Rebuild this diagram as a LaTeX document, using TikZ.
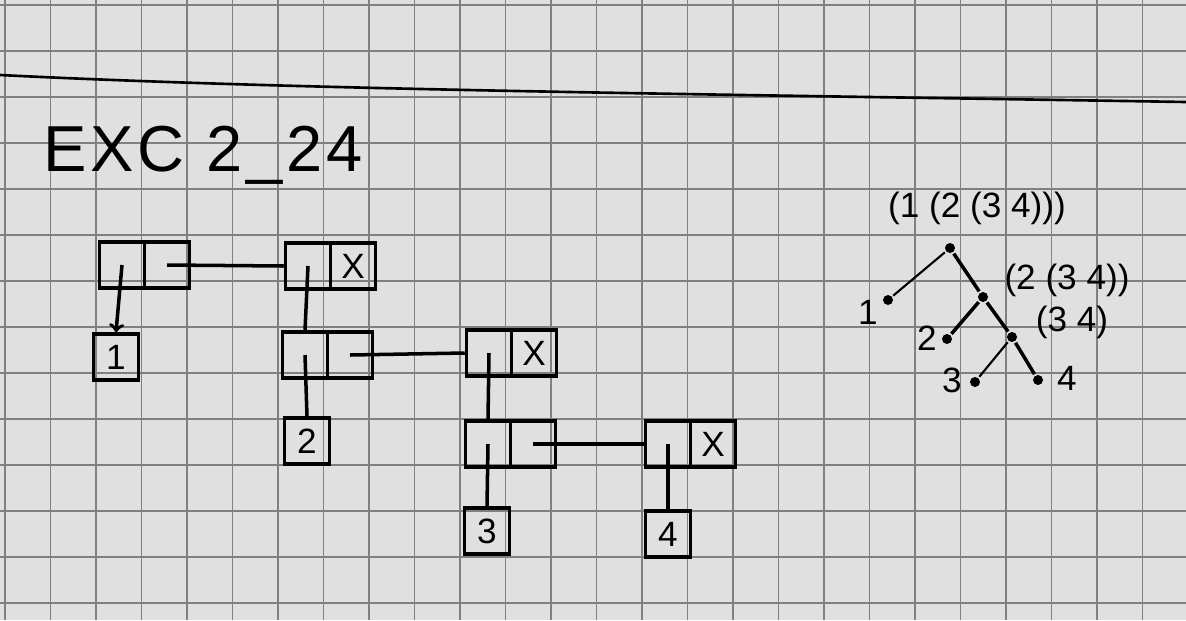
\documentclass[tikz,border=0pt]{standalone}
\usepackage{fontspec}
\setmainfont{Liberation Sans}
\usepackage{tikz}
\usepackage{xcolor}

\begin{document}
\begin{tikzpicture}
    [x=0.02cm,y=-0.02cm,line width=2pt,
     cell/.style={draw,rectangle,minimum width=0.9cm,minimum height=0.92cm,inner sep=0pt,font=\fontsize{20}{20}\selectfont},
     dot/.style={circle,fill=black,inner sep=0pt,minimum size=0.2cm},
     lbl/.style={font=\fontsize{20}{20}\selectfont},
     gridline/.style={line width=0.9pt,black!50}]
    \useasboundingbox (0,0) rectangle (1186,620);
    \fill[black!12] (0,0) rectangle (1186,620);
    % papier
    \foreach \gx in {0,...,26}
        \draw[gridline] ({5+45.5*\gx},0) -- ({5+45.5*\gx},620);
    \foreach \gy in {0,...,13}
        \draw[gridline] (0,{5+46*\gy}) -- (1186,{5+46*\gy});
    \draw[line width=1.5pt] (0,75) .. controls (300,90) and (700,94) .. (1186,102);

    \node[font=\fontsize{37}{37}\selectfont\addfontfeature{LetterSpace=6}] (title) at (203,155) {EXC 2\_24};

    % paires
    \node[cell] (p1-car) at (122,265) {};
    \node[cell] (p1-cdr) at (167,265) {};
    \node[cell] (p2-car) at (308,266) {};
    \node[cell] (p2-cdr) at (353,266) {X};
    \node[cell] (p3-car) at (305,355) {};
    \node[cell] (p3-cdr) at (350,355) {};
    \node[cell] (p4-car) at (489,353) {};
    \node[cell] (p4-cdr) at (534,353) {X};
    \node[cell] (p5-car) at (488,444) {};
    \node[cell] (p5-cdr) at (533,444) {};
    \node[cell] (p6-car) at (668,444) {};
    \node[cell] (p6-cdr) at (713,444) {X};

    \node[cell] (v1) at (116,357) {1};
    \node[cell] (v2) at (307,441) {2};
    \node[cell] (v3) at (487,531) {3};
    \node[cell] (v4) at (668,534) {4};

    \draw[->] (p1-car.center) -- (v1.north);
    \foreach \from/\to in {p1-cdr.center/p2-car.west,
                           p2-car.center/p3-car.north, p3-car.center/v2.north,
                           p3-cdr.center/p4-car.west,
                           p4-car.center/p5-car.north, p5-car.center/v3.north,
                           p5-cdr.center/p6-car.west,
                           p6-car.center/v4.north}
    \draw (\from) -- (\to);

    % arbre
    \node[lbl] (t-top) at (977,208) {(1 (2 (3 4)))};
    \node[dot] (t0) at (950,248) {};
    \node[dot] (t1) at (888,300) {};
    \node[dot] (t2) at (983,297) {};
    \node[dot] (t2-0) at (947,339) {};
    \node[dot] (t3) at (1012,337) {};
    \node[dot] (t3-0) at (975,382) {};
    \node[dot] (t3-1) at (1038,380) {};

    \node[lbl] (t1-l) at (868,312) {1};
    \node[lbl] (t2-l) at (1067,280) {(2 (3 4))};
    \node[lbl] (t2-0-l) at (927,338) {2};
    \node[lbl] (t3-l) at (1072,322) {(3 4)};
    \node[lbl] (t3-0-l) at (952,380) {3};
    \node[lbl] (t3-1-l) at (1067,378) {4};

    \foreach \from/\to in {t0/t1, t3/t3-0}
    \draw[line width=1.2pt] (\from) -- (\to);
    \foreach \from/\to in {t0/t2, t2/t2-0, t2/t3, t3/t3-1}
    \draw[line width=2pt] (\from) -- (\to);
\end{tikzpicture}
\end{document}
